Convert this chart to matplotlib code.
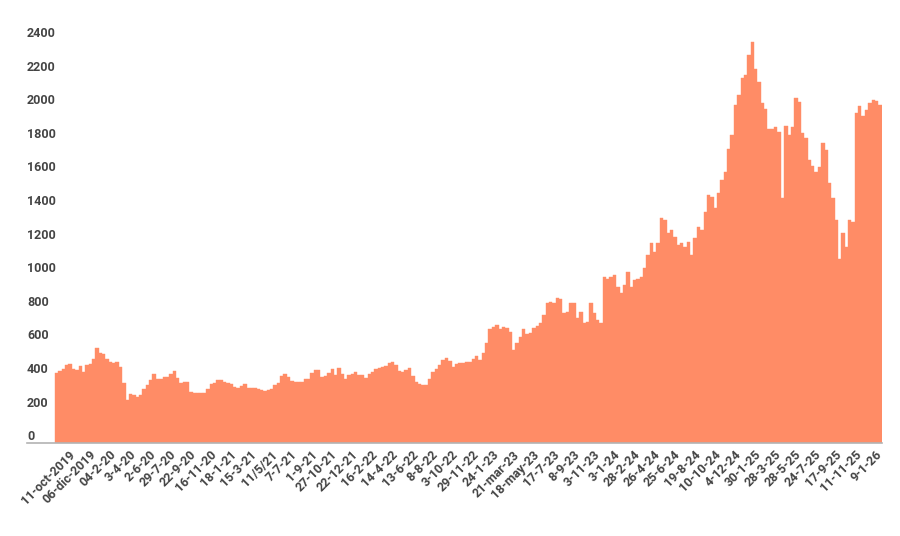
import matplotlib
matplotlib.use("Agg")
import matplotlib.pyplot as plt
import matplotlib.transforms as mtransforms

plt.rcParams["font.family"] = ["Roboto", "DejaVu Sans"]

# closing price, one bar per ~2 sessions
prices = [
    419, 429, 440, 464, 470, 438, 434, 458, 425, 462,
    468, 498, 563, 538, 530, 498, 480, 476, 480, 450,
    355, 256, 292, 288, 276, 286, 319, 343, 375, 411,
    383, 381, 395, 395, 411, 427, 389, 359, 365, 361,
    306, 296, 296, 296, 296, 321, 349, 355, 373, 375,
    365, 359, 349, 331, 329, 341, 351, 329, 327, 327,
    319, 315, 311, 315, 323, 347, 359, 399, 409, 393,
    367, 363, 361, 365, 381, 379, 419, 434, 437, 395,
    397, 415, 438, 405, 446, 411, 379, 403, 411, 421,
    405, 407, 385, 411, 421, 438, 444, 450, 456, 478,
    484, 464, 431, 423, 433, 444, 399, 361, 349, 345,
    347, 379, 423, 438, 462, 492, 508, 490, 450, 468,
    474, 474, 480, 482, 498, 518, 496, 538, 593, 677,
    692, 700, 677, 692, 684, 663, 554, 593, 629, 681,
    651, 653, 686, 698, 716, 762, 835, 841, 831, 863,
    857, 776, 780, 831, 835, 742, 782, 712, 722, 831,
    772, 732, 712, 986, 974, 986, 1000, 930, 895, 940,
    1020, 927, 970, 974, 986, 1040, 1119, 1188, 1139, 1192,
    1337, 1327, 1248, 1268, 1228, 1178, 1188, 1169, 1198, 1119,
    1218, 1284, 1268, 1377, 1476, 1466, 1397, 1486, 1565, 1615,
    1750, 1833, 2012, 2071, 2171, 2190, 2310, 2385, 2224, 2151,
    2022, 1986, 1867, 1867, 1879, 1853, 1460, 1887, 1833, 1883,
    2051, 2032, 1843, 1813, 1684, 1649, 1615, 1645, 1784, 1744,
    1546, 1456, 1327, 1095, 1248, 1169, 1327, 1317, 1962, 2006,
    1946, 1982, 2022, 2042, 2034, 2014,
]

date_labels = [
    "11-oct-2019", "06-dic-2019", "04-2-20", "3-4-20", "2-6-20", "29-7-20",
    "22-9-20", "16-11-20", "18-1-21", "15-3-21", "11/5/21", "7-7-21",
    "1-9-21", "27-10-21", "22-12-21", "16-2-22", "14-4-22", "13-6-22",
    "8-8-22", "3-10-22", "29-11-22", "24-1-23", "21-mar-23", "18-may-23",
    "17-7-23", "8-9-23", "3-11-23", "3-1-24", "28-2-24", "26-4-24",
    "25-6-24", "19-8-24", "10-10-24", "4-12-24", "30-1-25", "28-3-25",
    "28-5-25", "24-7-25", "17-9-25", "11-11-25", "9-1-26",
]

y_ticks = [0, 200, 400, 600, 800, 1000, 1200, 1400, 1600, 1800, 2000, 2200, 2400]

label_start = 5   # first labelled bar
label_every = 6   # bars between labels

bar_color = "#ff8c66"
text_color = "#444444"

fig = plt.figure(figsize=(9, 5.36), dpi=100)
ax = fig.add_axes([0.03, 0.1735, 0.9496, 0.7836])

x = list(range(len(prices)))
ax.bar(x, prices, width=1.0, color=bar_color, edgecolor=bar_color, linewidth=0.3)

ax.set_xlim(-8.83, len(prices) - 0.5)
ax.set_ylim(0, 2500)

# y labels sit just above their value, left aligned at the axis start
ax.set_yticks([])
offset = mtransforms.ScaledTranslation(0, 2 / 72, fig.dpi_scale_trans)
for v in y_ticks:
    ax.text(0, v, str(v), transform=ax.get_yaxis_transform() + offset,
            ha="left", va="baseline", fontsize=9, fontweight="bold",
            color=text_color)

tick_pos = [label_start + label_every * i for i in range(len(date_labels))]
ax.set_xticks(tick_pos)
ax.set_xticklabels(date_labels, rotation=45, ha="right", va="center",
                   rotation_mode="anchor", fontsize=9, fontweight="bold",
                   color=text_color)
ax.tick_params(axis="x", length=0, pad=7)

for side in ["top", "right", "left"]:
    ax.spines[side].set_visible(False)
ax.spines["bottom"].set_color("#b3b3b3")
ax.spines["bottom"].set_linewidth(1.2)

fig.savefig("out.png", dpi=100)
